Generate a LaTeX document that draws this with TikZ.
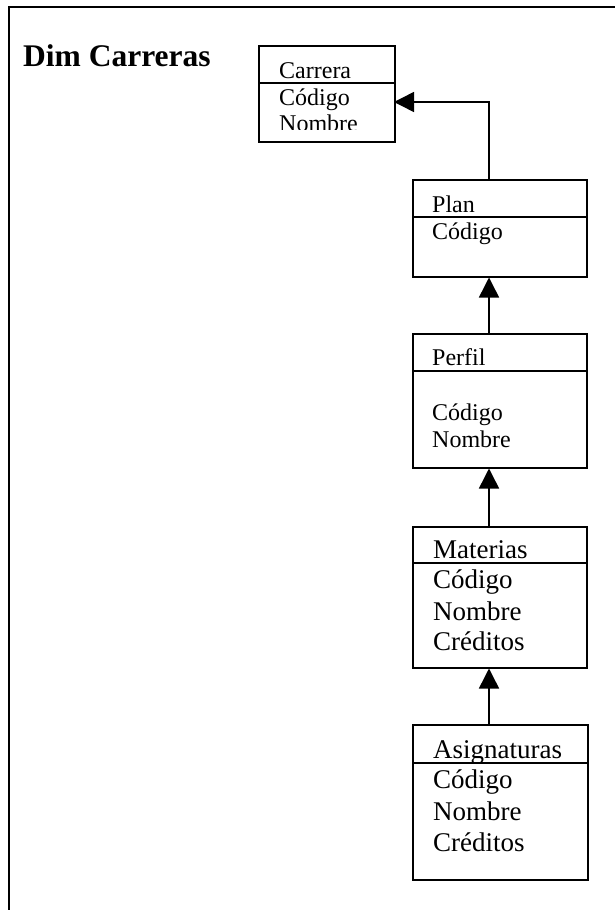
\documentclass[tikz,border=0pt]{standalone}
\usepackage{fontspec}
\setmainfont{Liberation Serif}
\usetikzlibrary{arrows.meta}
\begin{document}
\begin{tikzpicture}[x=1pt,y=-1pt,
  box/.style={draw,line width=1.5pt,rectangle,inner sep=0pt,anchor=north west},
  txt/.style={anchor=base west,inner sep=0pt,font=\fontsize{24}{27}\selectfont},
  bigtxt/.style={anchor=base west,inner sep=0pt,font=\fontsize{27}{31}\selectfont},
  sep/.style={line width=1.5pt},
  arr/.style={line width=1.5pt,-{Triangle[length=20pt,width=20pt]}}]
\useasboundingbox (0,0) rectangle (615,910);

% open frame: left and top edges
\draw[line width=2pt] (9,910) -- (9,7) -- (615,7);

\node[anchor=base west,inner sep=0pt,font=\fontsize{31.5}{36}\selectfont\bfseries] (title) at (23,66) {Dim Carreras};

% shared axis of the connectors
\coordinate (axis) at (489,0);

% Carrera
\node[box,minimum width=136pt,minimum height=96pt] (car) at (258,45) {};
\draw[sep] (car.west |- 0,83) -- (car.east |- 0,83);
\node[txt] (carT) at (279,78) {Carrera};
\begin{scope}
\clip (258,45) rectangle (394,129);
\node[txt] (carC) at (279,105) {Código};
\node[txt] (carN) at (279,131) {Nombre};
\end{scope}
\coordinate (carIn) at (394,102);

% Plan
\node[box,minimum width=174pt,minimum height=97pt] (plan) at (412,179) {};
\draw[sep] (plan.west |- 0,217) -- (plan.east |- 0,217);
\node[txt] (planT) at (432,212) {Plan};
\node[txt] (planC) at (432,239) {Código};

% Perfil
\node[box,minimum width=174pt,minimum height=134pt] (perf) at (412,333) {};
\draw[sep] (perf.west |- 0,371) -- (perf.east |- 0,371);
\node[txt] (perfT) at (432,365) {Perfil};
\node[txt] (perfC) at (432,420) {Código};
\node[txt] (perfN) at (432,447) {Nombre};

% Materias
\node[box,minimum width=174pt,minimum height=141pt] (mat) at (412,526) {};
\draw[sep] (mat.west |- 0,563) -- (mat.east |- 0,563);
\node[bigtxt] (matT) at (433,558) {Materias};
\node[bigtxt] (matC) at (433,588) {Código};
\node[bigtxt] (matN) at (433,620) {Nombre};
\node[bigtxt] (matR) at (433,650) {Créditos};

% Asignaturas
\node[box,minimum width=175pt,minimum height=155pt] (asig) at (412,724) {};
\draw[sep] (asig.west |- 0,763) -- (asig.east |- 0,763);
\node[bigtxt] (asigT) at (433,758) {Asignaturas};
\node[bigtxt] (asigC) at (433,788) {Código};
\node[bigtxt] (asigN) at (433,820) {Nombre};
\node[bigtxt] (asigR) at (433,851) {Créditos};

% connectors
\draw[arr] (plan.north -| axis) |- (carIn);
\draw[arr] (perf.north -| axis) -- (plan.south -| axis);
\draw[arr] (mat.north -| axis) -- (perf.south -| axis);
\draw[arr] (asig.north -| axis) -- (mat.south -| axis);
\end{tikzpicture}
\end{document}
